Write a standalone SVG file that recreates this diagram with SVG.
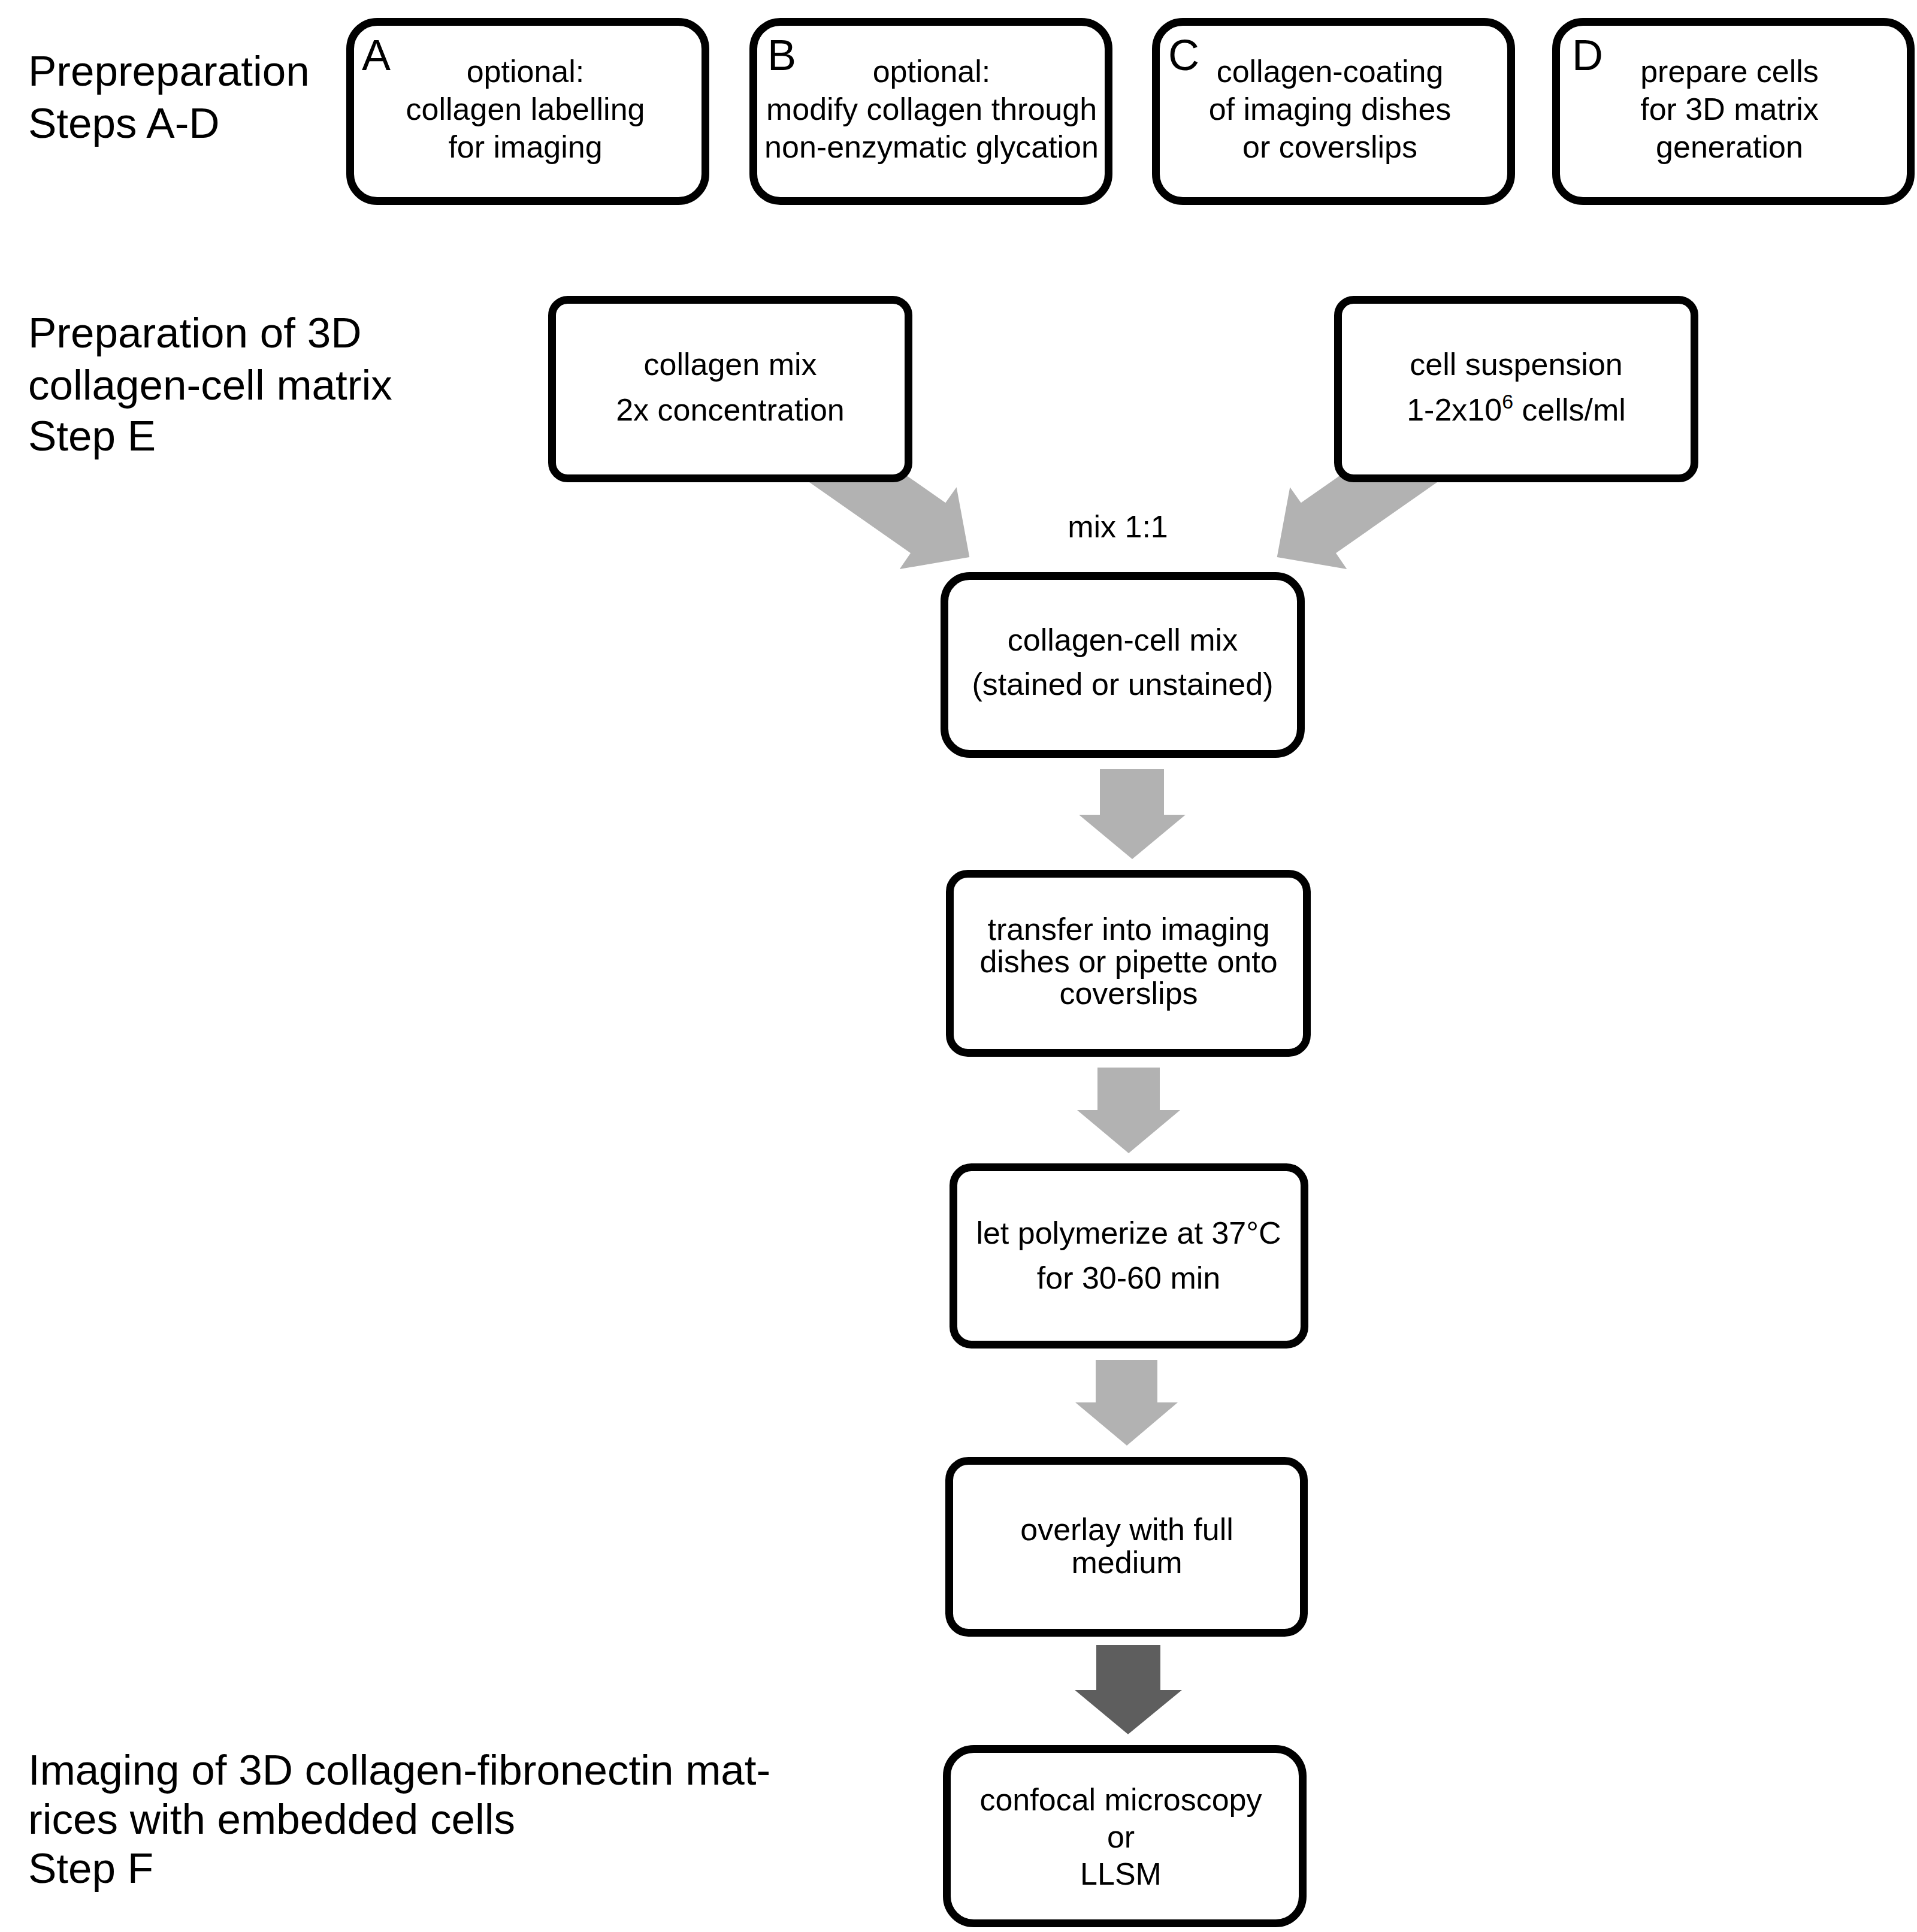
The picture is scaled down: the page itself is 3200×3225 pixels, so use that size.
<svg xmlns="http://www.w3.org/2000/svg" width="3200" height="3225" viewBox="0 0 3200 3225">
<style>
text{font-family:"Liberation Sans",Arial,sans-serif;fill:#000}
.h{font-size:71px}
.t{font-size:52px;text-anchor:middle}
.l{font-size:72px}
.box{fill:#fff;stroke:#000;stroke-width:13}
.ga{fill:#b2b2b2}
.da{fill:#5e5e5e}
</style>
<rect width="3200" height="3225" fill="#fff"/>
<g id="headings">
<text class="h" x="47" y="143">Prepreparation</text>
<text class="h" x="47" y="230">Steps A-D</text>
<text class="h" x="47" y="580">Preparation of 3D</text>
<text class="h" x="47" y="667">collagen-cell matrix</text>
<text class="h" x="47" y="752">Step E</text>
<text class="h" x="47" y="2979">Imaging of 3D collagen-fibronectin mat-</text>
<text class="h" x="47" y="3061">rices with embedded cells</text>
<text class="h" x="47" y="3143">Step F</text>
</g>
<g id="connectors">
<polygon class="ga" points="1455.5,753.4 1578.3,839.3 1596.7,813.3 1618.3,930 1501.7,950 1520,923.3 1315.3,780"/>
<polygon class="ga" points="2294.5,753.4 2171.7,839.3 2153.3,813.3 2131.7,930 2248.3,950 2230,923.3 2434.7,780"/>
<polygon class="ga" points="1836,1284 1943,1284 1943,1360 1979,1360 1890,1434 1801,1360 1836,1360"/>
<polygon class="ga" points="1832,1782 1936,1782 1936,1853 1970,1853 1884,1925 1798,1853 1832,1853"/>
<polygon class="ga" points="1829,2270 1932,2270 1932,2341 1966,2341 1881,2413 1795,2341 1829,2341"/>
<polygon class="da" points="1830,2746 1937,2746 1937,2821 1973,2821 1883,2895 1794,2821 1830,2821"/>
<text class="t" x="1866" y="897">mix 1:1</text>
</g>
<g id="nodeA">
<rect class="box" x="584.5" y="36.5" width="593" height="299" rx="45"/>
<text class="l" x="604" y="117">A</text>
<text class="t" x="877" y="137">optional:</text>
<text class="t" x="877" y="200">collagen labelling</text>
<text class="t" x="877" y="263">for imaging</text>
</g>
<g id="nodeB">
<rect class="box" x="1257.5" y="36.5" width="593" height="299" rx="45"/>
<text class="l" x="1281" y="117">B</text>
<text class="t" x="1555" y="137">optional:</text>
<text class="t" x="1555" y="200">modify collagen through</text>
<text class="t" x="1555" y="263">non-enzymatic glycation</text>
</g>
<g id="nodeC">
<rect class="box" x="1929.5" y="36.5" width="593" height="299" rx="45"/>
<text class="l" x="1950" y="117">C</text>
<text class="t" x="2220" y="137">collagen-coating</text>
<text class="t" x="2220" y="200">of imaging dishes</text>
<text class="t" x="2220" y="263">or coverslips</text>
</g>
<g id="nodeD">
<rect class="box" x="2597.5" y="36.5" width="592" height="299" rx="45"/>
<text class="l" x="2624" y="117">D</text>
<text class="t" x="2887" y="137">prepare cells</text>
<text class="t" x="2887" y="200">for 3D matrix</text>
<text class="t" x="2887" y="263">generation</text>
</g>
<g id="nodeCollagenMix">
<rect class="box" x="921.5" y="500.5" width="595" height="298" rx="26"/>
<text class="t" x="1219" y="626">collagen mix</text>
<text class="t" x="1219" y="702">2x concentration</text>
</g>
<g id="nodeCellSuspension">
<rect class="box" x="2233.5" y="500.5" width="595" height="298" rx="26"/>
<text class="t" x="2531" y="626">cell suspension</text>
<text class="t" x="2531" y="702">1-2x10<tspan font-size="34" dy="-20">6</tspan><tspan dy="20"> cells/ml</tspan></text>
</g>
<g id="nodeCollagenCellMix">
<rect class="box" x="1576.5" y="961.5" width="595" height="297" rx="42"/>
<text class="t" x="1874" y="1086">collagen-cell mix</text>
<text class="t" x="1874" y="1160">(stained or unstained)</text>
</g>
<g id="nodeTransfer">
<rect class="box" x="1585.5" y="1458.5" width="596" height="299" rx="30"/>
<text class="t" x="1884" y="1569">transfer into imaging</text>
<text class="t" x="1884" y="1623">dishes or pipette onto</text>
<text class="t" x="1884" y="1676">coverslips</text>
</g>
<g id="nodePolymerize">
<rect class="box" x="1591.5" y="1948.5" width="586" height="296" rx="30"/>
<text class="t" x="1884" y="2076">let polymerize at 37°C</text>
<text class="t" x="1884" y="2151">for 30-60 min</text>
</g>
<g id="nodeOverlay">
<rect class="box" x="1584.5" y="2438.5" width="592" height="287" rx="32"/>
<text class="t" x="1881" y="2571">overlay with full</text>
<text class="t" x="1881" y="2626">medium</text>
</g>
<g id="nodeConfocal">
<rect class="box" x="1580.5" y="2919.5" width="594" height="291" rx="45"/>
<text class="t" x="1871" y="3022">confocal microscopy</text>
<text class="t" x="1871" y="3084">or</text>
<text class="t" x="1871" y="3146">LLSM</text>
</g>
</svg>
